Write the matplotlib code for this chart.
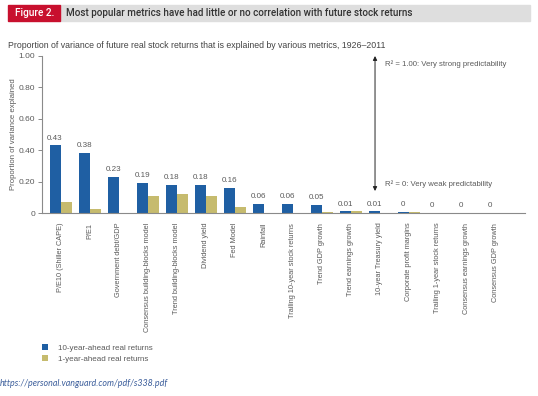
import matplotlib.pyplot as plt
import matplotlib.patches as patches
import numpy as np

metrics = ["P/E10 (Shiller CAPE)", "P/E1", "Government debt/GDP",
           "Consensus building-blocks model", "Trend building-blocks model",
           "Dividend yield", "Fed Model", "Rainfall",
           "Trailing 10-year stock returns", "Trend GDP growth",
           "Trend earnings growth", "10-year Treasury yield",
           "Corporate profit margins", "Trailing 1-year stock returns",
           "Consensus earnings growth", "Consensus GDP growth"]
ten_year = [0.43, 0.38, 0.23, 0.19, 0.18, 0.18, 0.16, 0.06,
            0.06, 0.05, 0.01, 0.01, 0.004, 0.003, 0.003, 0.003]
one_year = [0.072, 0.024, 0.0, 0.11, 0.12, 0.11, 0.04, 0.0,
            0.0, 0.006, 0.012, 0.002, 0.004, 0.003, 0.003, 0.002]
value_labels = ["0.43", "0.38", "0.23", "0.19", "0.18", "0.18", "0.16", "0.06",
                "0.06", "0.05", "0.01", "0.01", "0", "0", "0", "0"]
y_ticks = [0, 0.2, 0.4, 0.6, 0.8, 1.0]
y_ticklabels = ["0", "0.20", "0.40", "0.60", "0.80", "1.00"]

BLUE = "#1f5fa3"
GOLD = "#c6bb6e"
GRAY_TXT = "#5a5a5a"
AXIS = "#8a8a8a"

plt.rcParams['font.family'] = ['Liberation Sans', 'DejaVu Sans']

fig = plt.figure(figsize=(5.38, 3.96), dpi=100)

# header bar
fig.patches.append(patches.Rectangle((60 / 538, 1 - 21 / 396), 470 / 538, 16 / 396,
                                     transform=fig.transFigure, color="#dedede", zorder=0))
fig.patches.append(patches.Rectangle((8 / 538, 1 - 21 / 396), 52 / 538, 16 / 396,
                                     transform=fig.transFigure, color="#c8102e", zorder=1))
fig.text(15 / 538, 1 - 13 / 396, "Figure 2.", color="white", fontsize=7.3,
         va="center", ha="left", family=["Roboto", "DejaVu Sans"], fontweight="medium")
fig.text(66 / 538, 1 - 13 / 396,
         "Most popular metrics have had little or no correlation with future stock returns",
         color="#333333", fontsize=7.1, va="center", ha="left",
         family=["Roboto", "DejaVu Sans"], fontweight="medium")
fig.text(8 / 538, 1 - 45 / 396,
         "Proportion of variance of future real stock returns that is explained by various metrics, 1926\u20132011",
         color="#444444", fontsize=6.3, va="center", ha="left")

ax = fig.add_axes([42 / 538, 1 - 213 / 396, 483 / 538, 157 / 396])
x = np.arange(len(metrics))
w = 0.38
ax.bar(x - 0.2, ten_year, w, color=BLUE, label="10-year-ahead real returns")
ax.bar(x + 0.2, one_year, w, color=GOLD, label="1-year-ahead real returns")
for xi, v, lab in zip(x, ten_year, value_labels):
    ax.text(xi - 0.2, v + 0.025, lab, ha="center", va="bottom", fontsize=5.8, color=GRAY_TXT)

ax.set_xlim(-0.65, 16.0)
ax.set_ylim(0, 1.0)
ax.set_yticks(y_ticks)
ax.set_yticklabels(y_ticklabels, fontsize=6, color=GRAY_TXT)
ax.set_xticks(x)
ax.set_xticklabels(metrics, rotation=90, fontsize=5.3, color=GRAY_TXT)
ax.tick_params(axis="x", length=0, pad=7)
ax.tick_params(axis="y", length=3, width=0.7, color=AXIS, pad=2)
for s in ["top", "right"]:
    ax.spines[s].set_visible(False)
for s in ["left", "bottom"]:
    ax.spines[s].set_color(AXIS)
    ax.spines[s].set_linewidth(0.8)
ax.set_ylabel("Proportion of variance explained", fontsize=5.6, color=GRAY_TXT, labelpad=1)

# predictability arrow
ax.annotate("", xy=(10.83, 1.0), xytext=(10.83, 0.14),
            arrowprops=dict(arrowstyle="<|-|>", color="#222222", lw=0.7,
                            mutation_scale=6, shrinkA=0, shrinkB=0))
ax.text(11.18, 0.95, "R\u00b2 = 1.00: Very strong predictability", fontsize=5.6,
        color=GRAY_TXT, va="center", ha="left")
ax.text(11.18, 0.185, "R\u00b2 = 0: Very weak predictability", fontsize=5.6,
        color=GRAY_TXT, va="center", ha="left")

fig.legend(loc="upper left", bbox_to_anchor=(35 / 538, 1 - 337 / 396), frameon=False,
           fontsize=5.8, handlelength=0.7, handleheight=0.8, handletextpad=1.2,
           labelspacing=0.35, labelcolor=GRAY_TXT)

fig.text(0, 1 - 384 / 396, "https://personal.vanguard.com/pdf/s338.pdf", fontsize=6.4,
         style="italic", color="#3d5f9c", family=["Lato", "DejaVu Sans"], va="center")

fig.savefig("out.png", dpi=100)
